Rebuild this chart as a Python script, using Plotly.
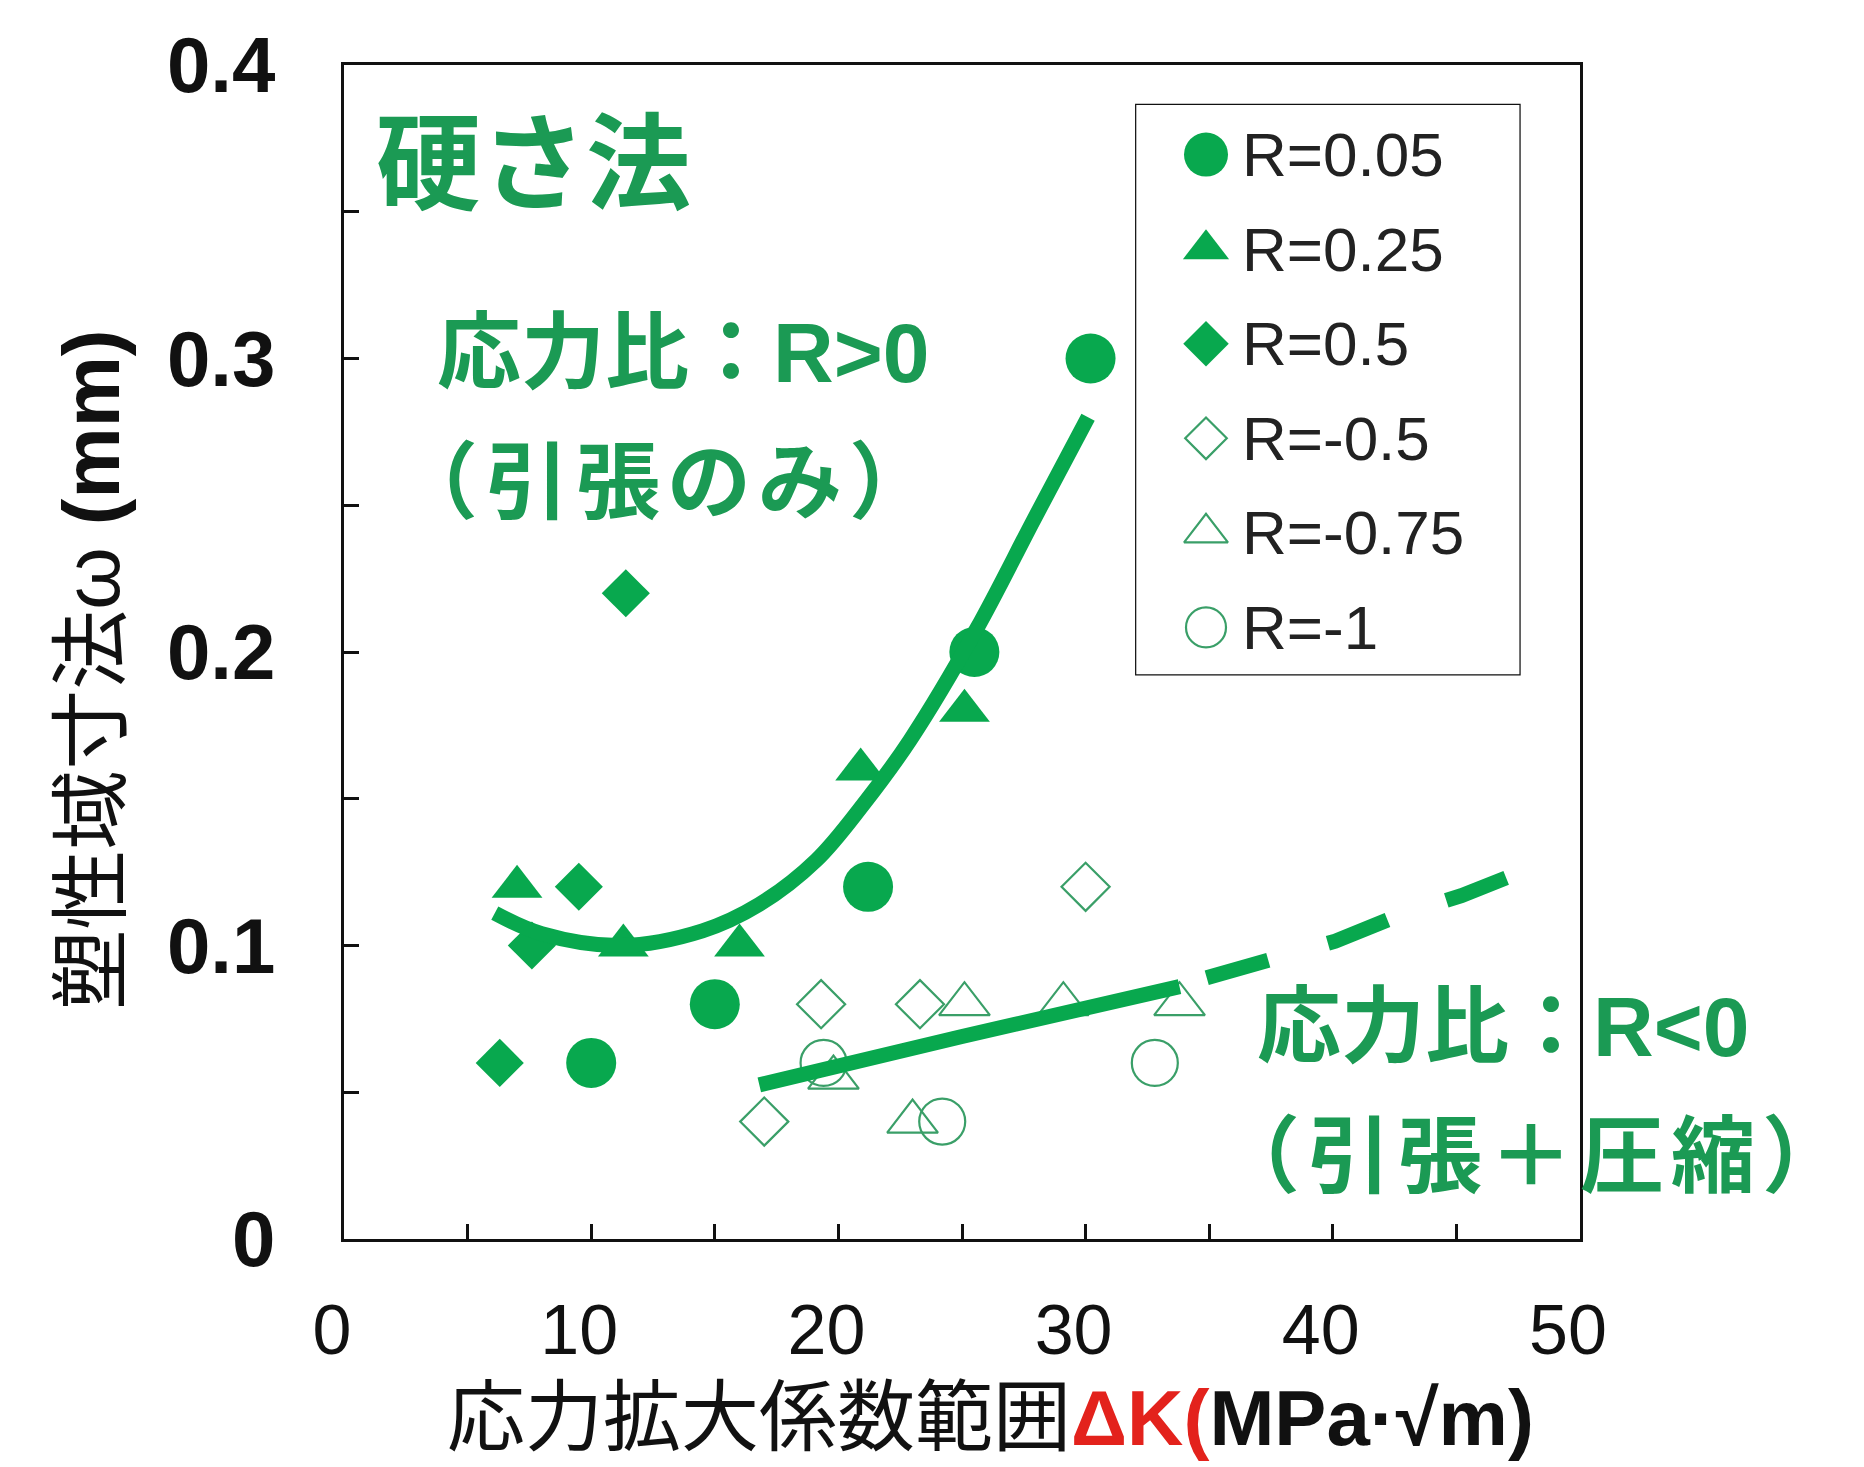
import plotly.graph_objects as go

# ---- measured data: stress intensity factor range dK (MPa*sqrt(m)) vs plastic zone size w (mm)
r005_dk = [10.0, 15.0, 21.2, 25.5, 30.2]
r005_w = [0.06, 0.08, 0.12, 0.20, 0.30]

r025_dk = [7.0, 11.3, 16.0, 20.9, 25.1]
r025_w = [0.12, 0.10, 0.10, 0.16, 0.18]

r05_dk = [6.3, 7.6, 9.5, 11.4]
r05_w = [0.06, 0.10, 0.12, 0.22]

rm05_dk = [17.0, 19.3, 23.3, 30.0]
rm05_w = [0.04, 0.08, 0.08, 0.12]

rm075_dk = [19.8, 23.0, 25.1, 29.1, 33.8]
rm075_w = [0.055, 0.04, 0.08, 0.08, 0.08]

rm1_dk = [19.4, 24.2, 32.8]
rm1_w = [0.06, 0.04, 0.06]

# trend curve for R>0 (tension only)
pos_curve_dk = [6.1, 8.0, 11.2, 14.5, 16.8, 19.1, 21.0, 22.9, 25.6, 27.9, 30.1]
pos_curve_w = [0.111, 0.104, 0.100, 0.105, 0.114, 0.129, 0.148, 0.170, 0.208, 0.245, 0.280]

# trend line for R<0 (tension + compression): solid part and dashed extension
neg_solid_dk = [16.8, 25.0, 33.8]
neg_solid_w = [0.0525, 0.069, 0.086]
neg_dash_dk = [34.9, 37.5, 40.1, 42.6, 45.2, 47.6]
neg_dash_w = [0.089, 0.0955, 0.1015, 0.110, 0.117, 0.125]

x_tick_vals = [0, 5, 10, 15, 20, 25, 30, 35, 40, 45, 50]
x_tick_text = ["0", "", "10", "", "20", "", "30", "", "40", "", "50"]
y_tick_vals = [0, 0.05, 0.1, 0.15, 0.2, 0.25, 0.3, 0.35, 0.4]
y_tick_text = ["0", "", "0.1", "", "0.2", "", "0.3", "", "0.4"]

legend_labels = ["R=0.05", "R=0.25", "R=0.5", "R=-0.5", "R=-0.75", "R=-1"]

GREEN = "#08a84e"
OPEN_GREEN = "#3a9f68"
TEXT_GREEN = "#1b9a54"
LATIN = "Liberation Sans, Arial, sans-serif"
JP = "Liberation Sans, Noto Sans CJK JP, sans-serif"
HAIR = "\u200a"  # hair space to open up the CJK pitch a little

series = [
    (r005_dk, r005_w, "circle", 50, 44),
    (r025_dk, r025_w, "triangle-up", 44, 40),
    (r05_dk, r05_w, "diamond", 37, 35),
    (rm05_dk, rm05_w, "diamond-open", 37, 32),
    (rm075_dk, rm075_w, "triangle-up-open", 44, 38),
    (rm1_dk, rm1_w, "circle-open", 46, 40),
]

fig = go.Figure()

for (xs, ys, sym, size, _), name in zip(series, legend_labels):
    is_open = sym.endswith("open")
    fig.add_trace(go.Scatter(
        x=xs, y=ys, mode="markers", name=name, showlegend=False,
        marker=dict(symbol=sym, size=size,
                    color=OPEN_GREEN if is_open else GREEN,
                    line=dict(width=2.2 if is_open else 0,
                              color=OPEN_GREEN)),
        cliponaxis=False,
    ))

# trend lines on top of the markers
fig.add_trace(go.Scatter(x=pos_curve_dk, y=pos_curve_w, mode="lines",
                         line=dict(color=GREEN, width=15, shape="spline"),
                         showlegend=False))
fig.add_trace(go.Scatter(x=neg_solid_dk, y=neg_solid_w, mode="lines",
                         line=dict(color=GREEN, width=15, shape="spline"),
                         showlegend=False))
fig.add_trace(go.Scatter(x=neg_dash_dk, y=neg_dash_w, mode="lines",
                         line=dict(color=GREEN, width=15, dash="64px,62px"),
                         showlegend=False))

# boxed legend drawn on its own overlay axes
row_y = [0.911 - i * 0.1654 for i in range(len(legend_labels))]
for (xs, ys, sym, _, lsize), name, ry in zip(series, legend_labels, row_y):
    is_open = sym.endswith("open")
    fig.add_trace(go.Scatter(
        x=[0.184], y=[ry], mode="markers", xaxis="x2", yaxis="y2",
        showlegend=False,
        marker=dict(symbol=sym, size=lsize,
                    color=OPEN_GREEN if is_open else GREEN,
                    line=dict(width=2.2 if is_open else 0, color=OPEN_GREEN)),
    ))
    fig.add_annotation(x=0.272, y=ry, xref="x2", yref="y2", text=name,
                       showarrow=False, xanchor="left", yanchor="middle",
                       font=dict(family=LATIN, size=62, color="#222222"))

fig.add_shape(type="rect", xref="x2", yref="y2", x0=0, x1=1, y0=0, y1=1,
              line=dict(color="#111111", width=2.5), fillcolor="rgba(0,0,0,0)")


def spaced(s):
    return HAIR.join(s)


# in-plot labels
label_font = dict(family=JP, size=84, color=TEXT_GREEN, weight="bold")
fig.add_annotation(x=1.2, y=0.366, text="硬さ法", showarrow=False,
                   xanchor="left", yanchor="middle",
                   font=dict(family=JP, size=105, color=TEXT_GREEN, weight="bold"))
fig.add_annotation(x=3.7, y=0.302, text="応力比：R>0", showarrow=False,
                   xanchor="left", yanchor="middle", font=label_font)
fig.add_annotation(x=1.94, y=0.2576, text=spaced("（引張のみ）"), showarrow=False,
                   xanchor="left", yanchor="middle", font=label_font)
fig.add_annotation(x=36.85, y=0.0722, text="応力比：R<0", showarrow=False,
                   xanchor="left", yanchor="middle", font=label_font)
fig.add_annotation(x=35.2, y=0.028, text=spaced("（引張＋圧縮）"), showarrow=False,
                   xanchor="left", yanchor="middle", font=label_font)

# axis titles
fig.add_annotation(xref="paper", yref="paper", x=0.5227, y=-0.1525,
                   text="応力拡大係数範囲<b><span style='color:#e3221c'>ΔK(</span>MPa·√m)</b>",
                   showarrow=False, xanchor="center", yanchor="middle",
                   font=dict(family=JP, size=78, color="#111111"))
fig.add_annotation(xref="paper", yref="paper", x=-0.204, y=0.4847,
                   text="塑性域寸法ω <b>(mm)</b>", textangle=-90,
                   showarrow=False, xanchor="center", yanchor="middle",
                   font=dict(family=JP, size=80, color="#111111"))

axis_common = dict(showline=True, linecolor="#111111", linewidth=3, mirror=True,
                   ticks="inside", ticklen=15, tickwidth=3, tickcolor="#111111",
                   showgrid=False, zeroline=False, automargin=False)

fig.update_layout(
    width=1864, height=1467,
    margin=dict(l=344, r=284, t=65, b=228),
    paper_bgcolor="white", plot_bgcolor="white",
    showlegend=False,
    xaxis=dict(range=[0, 50], tickvals=x_tick_vals, ticktext=x_tick_text,
               tickfont=dict(family=LATIN, size=70, color="#111111"),
               ticklabelstandoff=28, ticklabelshift=-12, **axis_common),
    yaxis=dict(range=[0, 0.4], tickvals=y_tick_vals, ticktext=y_tick_text,
               tickfont=dict(family=LATIN, size=78, color="#111111", weight="bold"),
               ticklabelstandoff=50, **axis_common),
    xaxis2=dict(domain=[0.640, 0.952], range=[0, 1], anchor="y2", visible=False),
    yaxis2=dict(domain=[0.480, 0.967], range=[0, 1], anchor="x2", visible=False),
)

fig.write_html("out.html")
